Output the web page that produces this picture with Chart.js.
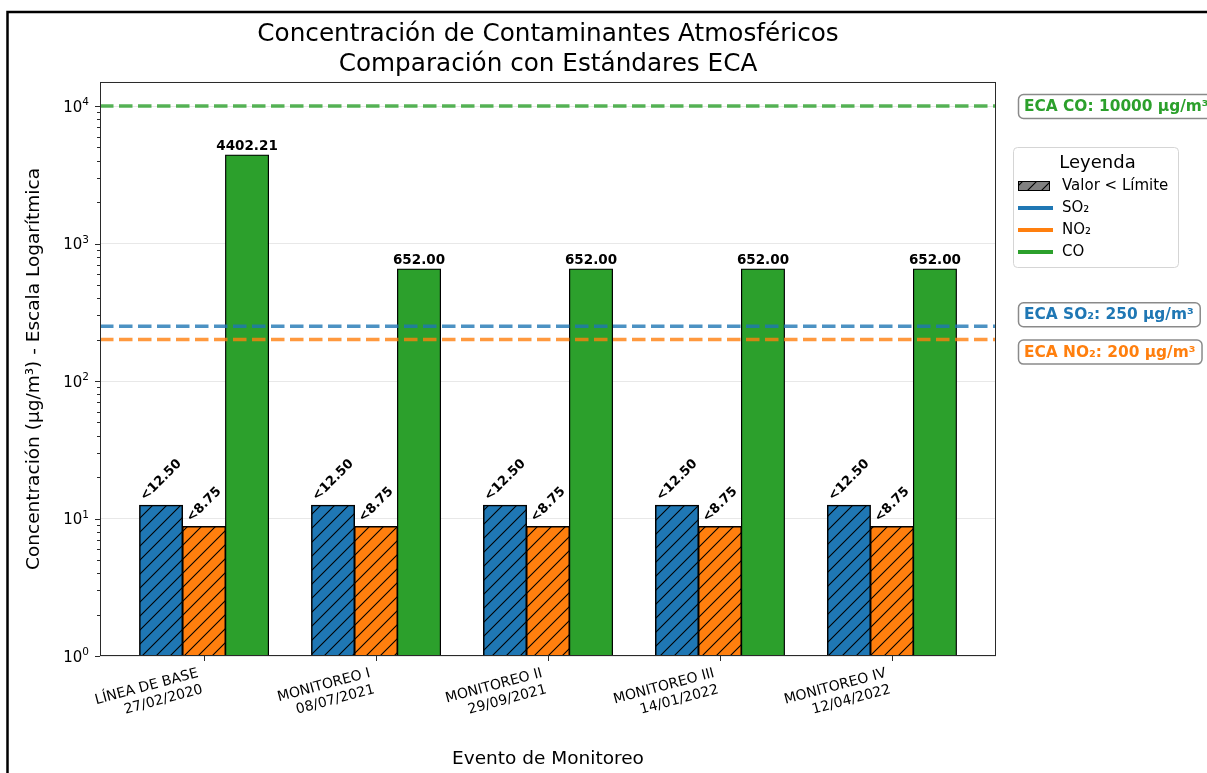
<!DOCTYPE html>
<html>
<head>
<meta charset="utf-8">
<script src="https://cdn.jsdelivr.net/npm/chart.js@4.4.1/dist/chart.umd.min.js"></script>
<style>
  html, body { margin: 0; padding: 0; background: #fff; }
  #c { display: block; }
</style>
</head>
<body>
<canvas id="c" width="1207" height="773"></canvas>
<script>
// ---------- DATA ----------
const eventNames = ["LÍNEA DE BASE", "MONITOREO I", "MONITOREO II", "MONITOREO III", "MONITOREO IV"];
const eventDates = ["27/02/2020", "08/07/2021", "29/09/2021", "14/01/2022", "12/04/2022"];
const so2Values = [12.50, 12.50, 12.50, 12.50, 12.50];
const no2Values = [8.75, 8.75, 8.75, 8.75, 8.75];
const coValues = [4402.21, 652.00, 652.00, 652.00, 652.00];
const so2BelowLimit = [true, true, true, true, true];
const no2BelowLimit = [true, true, true, true, true];
const coBelowLimit = [false, false, false, false, false];
const seriesNames = ["SO₂", "NO₂", "CO"];
const ecaNames = ["CO", "SO₂", "NO₂"];
const ecaValues = [10000, 250, 200];
const yMajorTicks = [1, 10, 100, 1000, 10000];
const yTickBase = "10";
const yTickExponents = ["0", "1", "2", "3", "4"];
const yMin = 1, yMax = 14950;
const xMin = -0.605, xMax = 4.605;

// ---------- STYLE ----------
const FONT = "'DejaVu Sans', sans-serif";
const C_BLUE = '#1f77b4', C_ORANGE = '#ff7f0e', C_GREEN = '#2ca02c';
const seriesColors = [C_BLUE, C_ORANGE, C_GREEN];
const ecaColors = [C_GREEN, C_BLUE, C_ORANGE];
const ecaVAlign = ['center', 'bottom', 'top'];

function makeHatch(color) {
  const s = 14;
  const cv = document.createElement('canvas');
  cv.width = s; cv.height = s;
  const g = cv.getContext('2d');
  g.fillStyle = color; g.fillRect(0, 0, s, s);
  g.strokeStyle = '#000'; g.lineWidth = 1.1;
  g.beginPath();
  g.moveTo(0, s); g.lineTo(s, 0);
  g.moveTo(-s / 2, s / 2); g.lineTo(s / 2, -s / 2);
  g.moveTo(s / 2, s * 1.5); g.lineTo(s * 1.5, s / 2);
  g.stroke();
  return document.getElementById('c').getContext('2d').createPattern(cv, 'repeat');
}

function fillFor(color, below) {
  return below.map(b => b ? makeHatch(color) : color);
}

const allValues = [so2Values, no2Values, coValues];
const allBelow = [so2BelowLimit, no2BelowLimit, coBelowLimit];

const datasets = allValues.map((vals, k) => ({
  label: seriesNames[k],
  data: vals.map((v, i) => ({ x: i, y: v })),
  backgroundColor: fillFor(seriesColors[k], allBelow[k]),
  borderColor: '#000',
  borderWidth: k === 2 ? 1.2 : 1.5,
  borderSkipped: false,
  inflateAmount: 0.5,
  categoryPercentage: 0.75,
  barPercentage: 1.0
}));

function rgba(hex, a) {
  const n = parseInt(hex.slice(1), 16);
  return `rgba(${(n >> 16) & 255},${(n >> 8) & 255},${n & 255},${a})`;
}

const customPlugin = {
  id: 'custom',
  beforeDraw(chart) {
    const ctx = chart.ctx;
    ctx.save();
    ctx.fillStyle = '#fff';
    ctx.fillRect(0, 0, chart.width, chart.height);
    ctx.restore();
  },
  afterDatasetsDraw(chart) {
    const { ctx, chartArea: a, scales: { x, y } } = chart;
    // reference lines
    ctx.save();
    ctx.beginPath(); ctx.rect(a.left, a.top, a.right - a.left, a.bottom - a.top); ctx.clip();
    ecaValues.forEach((v, i) => {
      const py = y.getPixelForValue(v);
      ctx.strokeStyle = rgba(ecaColors[i], 0.8);
      ctx.lineWidth = 3.5;
      ctx.setLineDash([13.5, 5.5]);
      ctx.beginPath(); ctx.moveTo(a.left, py); ctx.lineTo(a.right, py); ctx.stroke();
    });
    ctx.restore();

    // spines
    ctx.save();
    ctx.strokeStyle = '#2a2a2a'; ctx.lineWidth = 1;
    ctx.strokeRect(a.left + 0.5, a.top + 0.5, a.right - a.left - 1, a.bottom - a.top - 1);
    // y ticks (major + minor)
    ctx.beginPath();
    yMajorTicks.forEach(t => {
      for (let m = 1; m <= 9; m++) {
        const v = t * m;
        if (v < yMin || v > yMax) continue;
        const py = Math.round(y.getPixelForValue(v)) + 0.5;
        const len = m === 1 ? 5 : 3;
        ctx.moveTo(a.left, py); ctx.lineTo(a.left - len, py);
      }
    });
    // x ticks
    eventNames.forEach((n, i) => {
      const px = Math.round(x.getPixelForValue(i)) + 0.5;
      ctx.moveTo(px, a.bottom); ctx.lineTo(px, a.bottom + 5);
    });
    ctx.stroke();
    ctx.restore();

    // y tick labels 10^n
    ctx.save();
    ctx.fillStyle = '#000';
    ctx.textBaseline = 'alphabetic';
    yMajorTicks.forEach((t, i) => {
      const py = y.getPixelForValue(t);
      const right = a.left - 11;
      ctx.font = `10.5px ${FONT}`;
      const we = ctx.measureText(yTickExponents[i]).width;
      ctx.textAlign = 'right';
      ctx.fillText(yTickExponents[i], right, py - 1);
      ctx.font = `15px ${FONT}`;
      ctx.fillText(yTickBase, right - we, py + 5.5);
    });
    ctx.restore();

    // bar value labels
    ctx.save();
    ctx.fillStyle = '#000';
    chart.data.datasets.forEach((ds, k) => {
      const meta = chart.getDatasetMeta(k);
      meta.data.forEach((bar, i) => {
        const v = allValues[k][i];
        const below = allBelow[k][i];
        const top = bar.y;
        if (below) {
          const fs = 13;
          ctx.font = `bold ${fs}px ${FONT}`;
          const txt = '<' + v.toFixed(2);
          const w = ctx.measureText(txt).width;
          const bb = (w + fs * 0.8) * Math.SQRT1_2;
          const cx = bar.x, cy = top - 3 - bb / 2;
          ctx.save();
          ctx.translate(cx, cy);
          ctx.rotate(-Math.PI / 4);
          ctx.textAlign = 'center'; ctx.textBaseline = 'middle';
          ctx.fillText(txt, 0, 0);
          ctx.restore();
        } else {
          ctx.font = `bold 13.5px ${FONT}`;
          ctx.textAlign = 'center'; ctx.textBaseline = 'alphabetic';
          ctx.fillText(v.toFixed(2), bar.x, top - 5);
        }
      });
    });
    ctx.restore();
  },
  afterDraw(chart) {
    const { ctx, chartArea: a, scales: { y } } = chart;
    // ECA label boxes
    ctx.save();
    ctx.font = `bold 15.4px ${FONT}`;
    ecaValues.forEach((v, i) => {
      const py = y.getPixelForValue(v);
      const txt = `ECA ${ecaNames[i]}: ${v} µg/m³`;
      const w = ctx.measureText(txt).width;
      const bh = 24, bx = a.right + 22, bw = w + 12;
      let by;
      if (ecaVAlign[i] === 'center') by = py - bh / 2;
      else if (ecaVAlign[i] === 'bottom') by = py - bh;
      else by = py;
      ctx.beginPath();
      ctx.roundRect(bx + 0.5, by + 0.5, bw, bh, 5);
      ctx.fillStyle = 'rgba(255,255,255,0.9)';
      ctx.fill();
      ctx.strokeStyle = '#8a8a8a'; ctx.lineWidth = 1.5;
      ctx.stroke();
      ctx.fillStyle = ecaColors[i];
      ctx.textAlign = 'left'; ctx.textBaseline = 'middle';
      ctx.fillText(txt, bx + 6, by + bh / 2 + 1);
    });
    ctx.restore();

    // Legend
    ctx.save();
    const lx = a.right + 17, ly = 147, lw = 165, lh = 120;
    ctx.beginPath();
    ctx.roundRect(lx + 0.5, ly + 0.5, lw, lh, 4);
    ctx.fillStyle = 'rgba(255,255,255,0.9)'; ctx.fill();
    ctx.strokeStyle = '#d5d5d5'; ctx.lineWidth = 1; ctx.stroke();
    ctx.fillStyle = '#000';
    ctx.font = `18px ${FONT}`;
    ctx.textAlign = 'center'; ctx.textBaseline = 'middle';
    ctx.fillText('Leyenda', lx + lw / 2 + 2, ly + 16);
    const rowY = [186, 208, 230, 252];
    const hx = lx + 5, hw = 34, tx = lx + 49;
    // hatched patch
    ctx.fillStyle = makeHatch('#808080');
    ctx.fillRect(hx, rowY[0] - 5, hw - 2, 10);
    ctx.strokeStyle = '#000'; ctx.lineWidth = 1;
    ctx.strokeRect(hx + 0.5, rowY[0] - 5 + 0.5, hw - 3, 9);
    seriesNames.forEach((n, k) => {
      ctx.strokeStyle = seriesColors[k]; ctx.lineWidth = 4;
      ctx.beginPath(); ctx.moveTo(hx, rowY[k + 1]); ctx.lineTo(hx + hw + 1, rowY[k + 1]); ctx.stroke();
    });
    ctx.fillStyle = '#000';
    ctx.font = `15px ${FONT}`;
    ctx.textAlign = 'left'; ctx.textBaseline = 'middle';
    ctx.fillText('Valor < Límite', tx, rowY[0]);
    seriesNames.forEach((n, k) => ctx.fillText(n, tx, rowY[k + 1]));
    ctx.restore();

    // figure border (cropped frame)
    ctx.save();
    ctx.strokeStyle = '#000'; ctx.lineWidth = 2.5;
    ctx.beginPath();
    ctx.moveTo(7.5, chart.height); ctx.lineTo(7.5, 12); ctx.lineTo(chart.width, 12);
    ctx.stroke();
    ctx.restore();
  }
};

Chart.defaults.font.family = FONT;
Chart.defaults.color = '#000';

new Chart(document.getElementById('c'), {
  type: 'bar',
  data: { datasets },
  options: {
    responsive: false,
    animation: false,
    devicePixelRatio: 1,
    datasets: { bar: { categoryPercentage: 0.75, barPercentage: 1.0 } },
    layout: { padding: { left: 0, right: 211, top: 0, bottom: 0 } },
    plugins: {
      legend: { display: false },
      tooltip: { enabled: false },
      title: {
        display: true,
        fullSize: false,
        text: ['Concentración de Contaminantes Atmosféricos', 'Comparación con Estándares ECA'],
        font: { size: 24.7, weight: 'normal', lineHeight: 1.18 },
        color: '#000',
        padding: { top: 20.5, bottom: 3.2 }
      }
    },
    scales: {
      x: {
        type: 'linear',
        min: xMin, max: xMax,
        offset: false,
        afterBuildTicks: s => { s.ticks = eventNames.map((n, i) => ({ value: i })); },
        afterFit: s => { s.height = 117; },
        ticks: {
          autoSkip: false, maxRotation: 15, minRotation: 15, padding: 9, labelOffset: -6,
          font: { size: 14 }, color: '#000',
          callback: v => [eventNames[v], eventDates[v]]
        },
        grid: { display: false, drawTicks: false },
        border: { display: false },
        title: {
          display: true, text: 'Evento de Monitoreo',
          font: { size: 18.5 }, color: '#000', padding: { top: 0, bottom: 3 }
        }
      },
      y: {
        type: 'logarithmic',
        min: yMin, max: yMax,
        afterBuildTicks: s => { s.ticks = yMajorTicks.map(v => ({ value: v })); },
        afterFit: s => { s.width = 100; },
        ticks: { display: false, autoSkip: false },
        grid: { drawTicks: false, color: 'rgba(190,190,190,0.35)', lineWidth: 1 },
        border: { display: false },
        title: {
          display: true, text: 'Concentración (µg/m³) - Escala Logarítmica',
          font: { size: 18.5 }, color: '#000', padding: { top: 23, bottom: 0 }
        }
      }
    }
  },
  plugins: [customPlugin]
});
</script>
</body>
</html>
